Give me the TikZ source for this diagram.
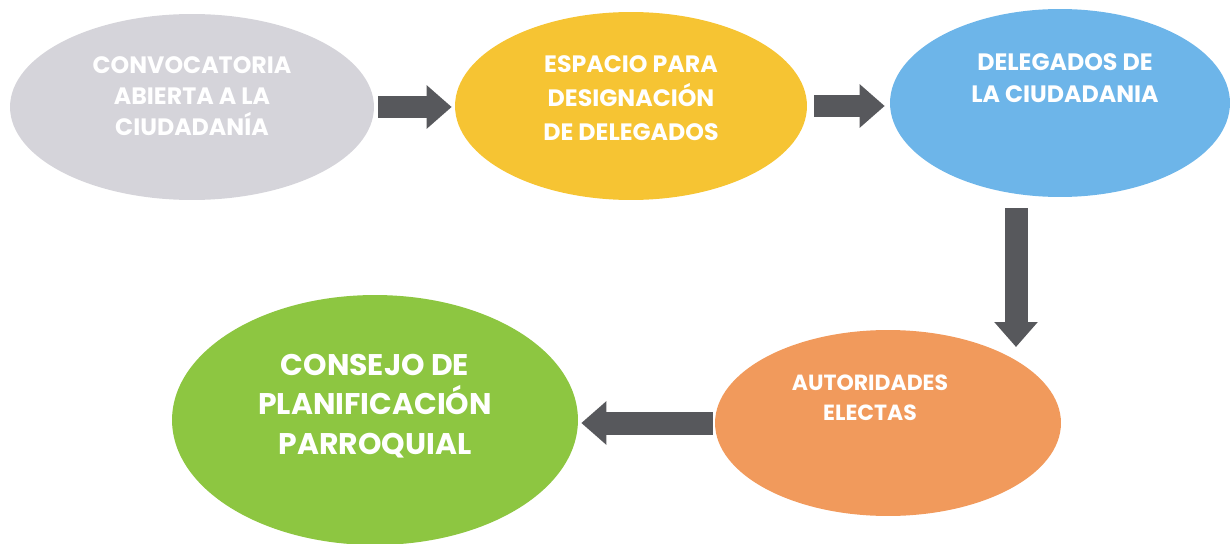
\documentclass[tikz,border=0pt]{standalone}
\usepackage{fontspec}
\setsansfont{Poppins}
\usepackage{tikz}
\usetikzlibrary{shapes.geometric,arrows.meta}

\definecolor{ovalgray}{HTML}{D5D4DA}
\definecolor{ovalyellow}{HTML}{F6C433}
\definecolor{ovalblue}{HTML}{6DB5E9}
\definecolor{ovalorange}{HTML}{F19A5C}
\definecolor{ovalgreen}{HTML}{8DC641}
\definecolor{arrowgray}{HTML}{57585C}

\begin{document}
\begin{tikzpicture}[
    x=0.02cm, y=-0.02cm,
    oval/.style={ellipse, draw=none, inner sep=0pt},
    ovaltext/.style={text=white, align=center, font=\sffamily\bfseries\fontsize{13.5}{17.5}\selectfont},
    bigtext/.style={text=white, align=center, font=\sffamily\bfseries\fontsize{17}{22.5}\selectfont},
    flowarrow/.style={draw=arrowgray, line width=0.46cm, -{Triangle[length=0.5cm,width=0.84cm]}},
]
\useasboundingbox (0,0) rectangle (1231,544);

% the five steps
\node[oval, fill=ovalgray, minimum width=7.28cm, minimum height=3.72cm,
      label={[ovaltext, yshift=0.22cm]center:{CONVOCATORIA\\ABIERTA A LA\\CIUDADANÍA}}] (convocatoria) at (192,107) {};
\node[oval, fill=ovalyellow, minimum width=7.04cm, minimum height=3.76cm,
      label={[ovaltext, yshift=0.16cm, font=\sffamily\bfseries\fontsize{13.5}{19.5}\selectfont]center:{ESPACIO PARA\\DESIGNACIÓN\\DE DELEGADOS}}] (espacio) at (631,106) {};
\node[oval, fill=ovalblue, minimum width=6.8cm, minimum height=3.76cm,
      label={[ovaltext, xshift=0.1cm, yshift=0.5cm, font=\sffamily\bfseries\fontsize{13.5}{18.5}\selectfont]center:{DELEGADOS DE\\LA CIUDADANIA}}] (delegados) at (1060,103) {};
\node[oval, fill=ovalorange, minimum width=6.92cm, minimum height=3.72cm,
      label={[ovaltext, xshift=-0.36cm, yshift=0.5cm, font=\sffamily\bfseries\fontsize{12.5}{17}\selectfont]center:{AUTORIDADES\\ELECTAS}}] (autoridades) at (888,423) {};
\node[oval, fill=ovalgreen, minimum width=8.12cm, minimum height=5cm,
      label={[bigtext, yshift=0.28cm]center:{CONSEJO DE\\PLANIFICACIÓN\\PARROQUIAL}}] (consejo) at (375,420) {};

% arrow ends, level with where each arrow starts
\coordinate (tipone) at (espacio.west |- convocatoria.east);
\coordinate (tiptwo) at (delegados.west |- espacio.east);
\coordinate (tipfour) at (consejo.east |- autoridades.west);

% arrows between them
\draw[flowarrow] ([xshift=0.08cm]convocatoria.east) -- ([xshift=-0.06cm]tipone);
\draw[flowarrow] ([xshift=0.14cm]espacio.east) -- ([xshift=-0.1cm]tiptwo);
\draw[flowarrow] ([shift={(-44,11)}]delegados.south) -- ([shift={(128,-76)}]autoridades.center);
\draw[flowarrow] ([xshift=-0.04cm]autoridades.west) -- ([xshift=0.06cm]tipfour);
\end{tikzpicture}
\end{document}
